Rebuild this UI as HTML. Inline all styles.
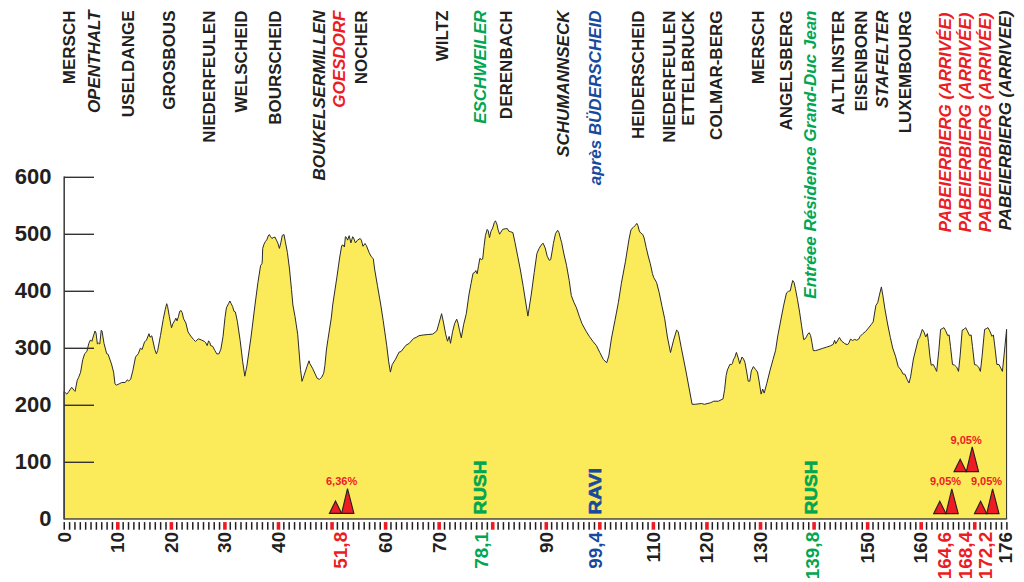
<!DOCTYPE html><html><head><meta charset="utf-8"><style>html,body{margin:0;padding:0;background:#fff;}body{width:1024px;height:582px;overflow:hidden;position:relative;}svg{position:absolute;left:0;top:0;}text{font-family:"Liberation Sans",Arial,Helvetica,sans-serif;font-weight:bold;}</style></head><body>
<svg width="1024" height="582" viewBox="0 0 1024 582">
<polygon points="64.0,391.4 66.9,394.2 68.9,391.4 71.7,387.3 74.4,390.7 75.1,391.4 77.2,380.4 78.5,377.7 80.6,372.2 82.7,359.8 84.7,353.7 86.8,351.6 88.8,343.4 90.5,339.9 91.9,341.3 93.7,335.1 95.0,331.0 96.0,333.0 97.4,344.0 98.5,343.0 99.8,344.0 101.2,330.3 102.0,331.0 104.0,343.4 106.7,353.7 108.1,354.3 111.5,364.0 113.6,372.2 115.0,383.9 116.3,385.2 119.1,383.9 121.8,382.5 125.2,382.5 127.3,379.8 128.7,381.1 130.7,379.1 132.8,370.8 135.5,357.1 138.3,353.7 140.4,348.2 142.1,349.5 144.5,342.0 146.5,340.0 149.0,333.7 150.0,337.2 151.8,335.8 154.8,349.5 156.4,353.9 157.7,350.4 160.5,335.3 163.2,319.5 165.3,309.2 166.7,303.7 167.6,306.5 169.4,316.8 171.5,327.8 172.9,323.7 174.9,320.2 175.9,318.2 177.0,320.9 178.4,316.8 179.7,311.3 181.1,310.6 182.2,312.7 183.6,318.8 185.9,323.0 188.0,331.9 190.7,336.0 193.5,339.5 195.5,341.5 198.3,338.8 201.7,340.1 204.5,341.5 205.8,342.9 207.2,345.6 208.6,340.8 210.0,342.9 210.6,345.6 212.7,346.3 214.8,350.4 216.8,353.9 218.9,353.9 220.9,349.1 223.0,336.7 225.0,317.5 226.4,307.9 228.5,303.7 229.9,301.0 231.2,303.7 232.6,306.5 234.0,311.3 235.4,312.0 237.4,321.6 240.2,340.8 242.7,361.8 244.8,376.2 246.9,365.9 251.0,337.1 255.1,304.1 257.9,282.7 260.6,265.5 262.0,263.5 262.3,260.0 262.7,248.4 264.0,244.2 265.4,241.5 266.8,239.8 268.2,236.0 269.3,234.6 270.5,236.7 271.9,238.5 273.2,237.6 275.0,237.1 276.4,240.1 277.8,242.9 279.4,248.4 280.8,242.9 282.3,235.3 284.0,234.6 285.3,241.5 287.4,252.5 289.5,269.0 291.5,289.6 292.9,305.0 295.0,316.5 297.7,334.3 300.5,369.3 302.0,381.3 304.0,375.5 307.1,366.2 309.0,360.8 309.8,363.5 312.5,368.2 314.8,373.2 317.1,378.2 319.4,379.4 321.8,377.1 323.7,373.2 324.9,365.5 326.4,350.0 327.9,339.8 331.3,317.9 332.7,305.0 336.9,277.2 339.6,258.0 341.7,245.6 343.0,244.9 344.4,247.0 345.4,236.7 346.5,237.4 347.6,240.1 349.2,235.7 350.9,242.9 352.7,236.7 353.6,238.0 355.4,242.9 357.5,240.1 360.2,238.5 361.3,240.1 363.0,246.3 365.0,243.5 366.4,245.6 369.1,252.5 371.2,256.6 373.3,258.7 374.6,269.0 377.4,285.4 380.8,305.0 383.2,320.6 386.7,345.3 388.7,361.8 390.4,372.1 392.2,364.6 395.6,359.1 399.0,352.2 401.1,351.5 405.9,345.3 409.3,343.3 413.5,338.5 416.2,337.4 419.0,335.7 423.1,335.0 427.2,334.6 432.7,334.1 436.8,330.9 439.3,322.0 441.6,313.7 443.4,322.0 445.7,334.3 447.5,341.2 449.2,336.4 450.5,343.3 452.6,331.6 454.7,323.4 456.7,319.2 458.1,323.4 459.5,330.2 461.3,337.8 463.6,324.7 466.3,313.7 468.9,295.0 471.0,283.7 473.0,273.4 474.8,272.4 475.8,270.6 477.2,273.8 478.5,265.8 479.9,258.3 481.3,259.6 482.7,259.0 484.0,246.6 485.4,235.6 487.2,229.4 488.2,230.8 489.5,237.7 490.9,231.5 492.7,228.0 494.3,222.6 495.4,220.8 496.8,223.9 498.2,230.1 499.6,234.2 500.9,232.2 502.6,229.4 505.3,228.7 507.4,228.7 508.8,231.2 510.8,231.8 512.9,232.6 515.0,242.5 517.7,256.2 520.4,270.0 523.2,286.4 527.9,316.1 531.2,295.0 534.2,272.7 536.9,253.5 539.0,248.7 541.0,245.2 543.1,243.2 545.2,248.0 547.2,256.2 549.3,260.3 550.7,259.6 552.7,248.0 553.4,243.4 555.5,233.7 557.6,230.3 558.9,232.4 560.7,239.2 561.7,242.7 563.7,253.0 566.5,265.3 569.2,280.4 571.3,295.5 573.9,302.3 576.5,307.9 579.2,316.1 582.0,323.7 586.1,331.2 589.5,336.7 593.0,341.5 596.4,345.6 599.8,352.5 603.3,359.4 606.7,362.8 608.8,355.9 611.5,338.1 615.0,320.2 618.4,302.4 621.4,283.2 625.5,261.2 629.0,239.2 631.0,229.6 633.1,227.6 635.2,225.5 636.8,223.4 637.9,225.5 639.3,231.0 640.7,233.0 642.7,234.4 644.1,237.9 646.2,247.5 648.2,256.0 650.3,263.7 652.4,273.4 653.7,277.5 656.5,282.3 659.2,292.6 662.0,306.3 664.7,318.7 667.4,337.0 670.5,352.5 673.6,340.1 676.6,330.1 678.2,331.6 681.3,347.8 685.9,371.0 692.1,404.3 695.2,404.3 701.4,403.5 704.5,404.3 710.7,402.7 713.8,401.2 718.4,401.2 723.0,398.9 724.6,389.6 726.1,375.7 727.4,369.9 730.0,364.2 731.5,364.7 732.5,363.2 733.6,359.1 734.6,358.0 736.4,352.4 738.2,357.9 739.7,363.7 742.0,357.0 743.6,359.1 744.9,362.2 746.7,372.0 748.2,381.2 749.8,381.2 751.3,370.9 753.4,366.6 755.5,369.4 757.5,372.0 759.1,381.2 761.1,394.1 762.7,389.0 764.2,393.1 766.8,383.3 769.9,370.9 773.0,359.6 775.6,350.3 777.6,336.9 781.0,319.0 783.7,305.2 786.5,292.9 788.6,291.2 790.3,290.8 791.3,286.0 792.7,280.5 794.1,282.6 795.4,288.7 797.5,299.7 799.6,312.1 801.6,325.9 803.7,339.6 805.1,338.9 806.4,336.9 807.8,334.1 809.2,332.7 810.6,335.5 811.9,342.4 813.3,350.6 815.4,350.6 818.1,349.9 822.2,348.5 826.4,347.2 830.5,345.8 833.2,344.4 834.6,340.3 835.7,343.7 837.4,341.0 839.4,337.5 841.5,341.0 844.2,343.0 845.0,343.9 847.7,344.6 849.1,342.5 850.5,339.1 852.6,340.5 854.6,339.4 856.7,340.2 858.7,339.1 860.1,336.4 862.9,333.6 865.6,331.5 868.4,328.1 871.1,324.7 873.2,321.9 874.6,313.0 875.9,305.4 877.7,302.7 879.4,295.1 881.4,286.9 882.8,295.1 884.9,308.9 887.6,324.0 890.4,337.7 892.7,348.0 895.5,356.2 898.2,366.5 901.0,370.0 903.1,374.1 904.8,374.1 907.2,379.6 909.0,383.0 910.6,376.9 913.4,359.0 916.1,348.0 918.2,339.7 919.6,337.7 922.3,329.4 924.1,332.2 925.7,337.0 927.4,333.6 928.5,342.5 929.9,356.2 931.2,365.2 933.3,364.5 934.7,367.2 936.7,371.4 938.8,350.7 940.6,329.4 942.2,328.7 943.9,327.6 945.7,330.8 947.7,335.6 949.1,334.9 950.5,346.6 952.5,364.5 954.6,365.2 956.7,367.2 958.5,371.4 960.1,356.2 962.2,330.1 964.0,329.4 965.6,327.6 967.3,330.8 969.5,335.6 971.1,334.9 972.5,346.6 974.5,364.5 976.6,365.2 978.7,367.2 980.4,371.4 982.1,356.2 984.6,329.4 986.2,328.7 987.9,327.6 989.7,330.8 992.0,336.3 993.4,334.9 995.2,349.4 996.9,364.5 999.0,364.5 1000.7,367.9 1002.4,371.4 1004.1,354.9 1006.6,329.4 1006.6,519 64,519" fill="#FBEA5A" stroke="#2b2b2b" stroke-width="1" stroke-linejoin="round"/>
<line x1="64.2" y1="176.6" x2="64.2" y2="519.4" stroke="#444" stroke-width="1.6"/>
<line x1="63.6" y1="518.9" x2="1007.3" y2="518.9" stroke="#555" stroke-width="0.9"/>
<line x1="64" y1="177.3" x2="94" y2="177.3" stroke="#333" stroke-width="1.4"/>
<line x1="64" y1="234.3" x2="94" y2="234.3" stroke="#333" stroke-width="1.4"/>
<line x1="64" y1="291.3" x2="94" y2="291.3" stroke="#333" stroke-width="1.4"/>
<line x1="64" y1="348.3" x2="94" y2="348.3" stroke="#333" stroke-width="1.4"/>
<line x1="64" y1="405.3" x2="94" y2="405.3" stroke="#333" stroke-width="1.4"/>
<line x1="64" y1="462.3" x2="94" y2="462.3" stroke="#333" stroke-width="1.4"/>
<text transform="translate(0 526.30) scale(1 1.03)" x="51.5" y="0" text-anchor="end" font-size="22" fill="#231F20">0</text>
<text transform="translate(0 469.30) scale(1 1.03)" x="51.5" y="0" text-anchor="end" font-size="22" fill="#231F20">100</text>
<text transform="translate(0 412.30) scale(1 1.03)" x="51.5" y="0" text-anchor="end" font-size="22" fill="#231F20">200</text>
<text transform="translate(0 355.30) scale(1 1.03)" x="51.5" y="0" text-anchor="end" font-size="22" fill="#231F20">300</text>
<text transform="translate(0 298.30) scale(1 1.03)" x="51.5" y="0" text-anchor="end" font-size="22" fill="#231F20">400</text>
<text transform="translate(0 241.30) scale(1 1.03)" x="51.5" y="0" text-anchor="end" font-size="22" fill="#231F20">500</text>
<text transform="translate(0 184.30) scale(1 1.03)" x="51.5" y="0" text-anchor="end" font-size="22" fill="#231F20">600</text>
<rect x="63.49" y="522.1" width="1.5" height="7.6" fill="#231F20"/>
<rect x="68.85" y="522.1" width="1.5" height="7.6" fill="#231F20"/>
<rect x="74.20" y="522.1" width="1.5" height="7.6" fill="#231F20"/>
<rect x="79.56" y="522.1" width="1.5" height="7.6" fill="#231F20"/>
<rect x="84.91" y="522.1" width="1.5" height="7.6" fill="#231F20"/>
<rect x="90.27" y="522.1" width="1.5" height="7.6" fill="#231F20"/>
<rect x="95.63" y="522.1" width="1.5" height="7.6" fill="#231F20"/>
<rect x="100.98" y="522.1" width="1.5" height="7.6" fill="#231F20"/>
<rect x="106.34" y="522.1" width="1.5" height="7.6" fill="#231F20"/>
<rect x="111.69" y="522.1" width="1.5" height="7.6" fill="#231F20"/>
<rect x="116.00" y="522.1" width="3.6" height="7.6" fill="#ED1C24"/>
<rect x="122.41" y="522.1" width="1.5" height="7.6" fill="#231F20"/>
<rect x="127.76" y="522.1" width="1.5" height="7.6" fill="#231F20"/>
<rect x="133.12" y="522.1" width="1.5" height="7.6" fill="#231F20"/>
<rect x="138.47" y="522.1" width="1.5" height="7.6" fill="#231F20"/>
<rect x="143.83" y="522.1" width="1.5" height="7.6" fill="#231F20"/>
<rect x="149.19" y="522.1" width="1.5" height="7.6" fill="#231F20"/>
<rect x="154.54" y="522.1" width="1.5" height="7.6" fill="#231F20"/>
<rect x="159.90" y="522.1" width="1.5" height="7.6" fill="#231F20"/>
<rect x="165.25" y="522.1" width="1.5" height="7.6" fill="#231F20"/>
<rect x="169.56" y="522.1" width="3.6" height="7.6" fill="#ED1C24"/>
<rect x="175.97" y="522.1" width="1.5" height="7.6" fill="#231F20"/>
<rect x="181.32" y="522.1" width="1.5" height="7.6" fill="#231F20"/>
<rect x="186.68" y="522.1" width="1.5" height="7.6" fill="#231F20"/>
<rect x="192.03" y="522.1" width="1.5" height="7.6" fill="#231F20"/>
<rect x="197.39" y="522.1" width="1.5" height="7.6" fill="#231F20"/>
<rect x="202.75" y="522.1" width="1.5" height="7.6" fill="#231F20"/>
<rect x="208.10" y="522.1" width="1.5" height="7.6" fill="#231F20"/>
<rect x="213.46" y="522.1" width="1.5" height="7.6" fill="#231F20"/>
<rect x="218.81" y="522.1" width="1.5" height="7.6" fill="#231F20"/>
<rect x="223.12" y="522.1" width="3.6" height="7.6" fill="#ED1C24"/>
<rect x="229.53" y="522.1" width="1.5" height="7.6" fill="#231F20"/>
<rect x="234.88" y="522.1" width="1.5" height="7.6" fill="#231F20"/>
<rect x="240.24" y="522.1" width="1.5" height="7.6" fill="#231F20"/>
<rect x="245.59" y="522.1" width="1.5" height="7.6" fill="#231F20"/>
<rect x="250.95" y="522.1" width="1.5" height="7.6" fill="#231F20"/>
<rect x="256.31" y="522.1" width="1.5" height="7.6" fill="#231F20"/>
<rect x="261.66" y="522.1" width="1.5" height="7.6" fill="#231F20"/>
<rect x="267.02" y="522.1" width="1.5" height="7.6" fill="#231F20"/>
<rect x="272.37" y="522.1" width="1.5" height="7.6" fill="#231F20"/>
<rect x="276.68" y="522.1" width="3.6" height="7.6" fill="#ED1C24"/>
<rect x="283.09" y="522.1" width="1.5" height="7.6" fill="#231F20"/>
<rect x="288.44" y="522.1" width="1.5" height="7.6" fill="#231F20"/>
<rect x="293.80" y="522.1" width="1.5" height="7.6" fill="#231F20"/>
<rect x="299.15" y="522.1" width="1.5" height="7.6" fill="#231F20"/>
<rect x="304.51" y="522.1" width="1.5" height="7.6" fill="#231F20"/>
<rect x="309.87" y="522.1" width="1.5" height="7.6" fill="#231F20"/>
<rect x="315.22" y="522.1" width="1.5" height="7.6" fill="#231F20"/>
<rect x="320.58" y="522.1" width="1.5" height="7.6" fill="#231F20"/>
<rect x="325.93" y="522.1" width="1.5" height="7.6" fill="#231F20"/>
<rect x="330.24" y="522.1" width="3.6" height="7.6" fill="#ED1C24"/>
<rect x="336.65" y="522.1" width="1.5" height="7.6" fill="#231F20"/>
<rect x="342.00" y="522.1" width="1.5" height="7.6" fill="#231F20"/>
<rect x="347.36" y="522.1" width="1.5" height="7.6" fill="#231F20"/>
<rect x="352.71" y="522.1" width="1.5" height="7.6" fill="#231F20"/>
<rect x="358.07" y="522.1" width="1.5" height="7.6" fill="#231F20"/>
<rect x="363.43" y="522.1" width="1.5" height="7.6" fill="#231F20"/>
<rect x="368.78" y="522.1" width="1.5" height="7.6" fill="#231F20"/>
<rect x="374.14" y="522.1" width="1.5" height="7.6" fill="#231F20"/>
<rect x="379.49" y="522.1" width="1.5" height="7.6" fill="#231F20"/>
<rect x="383.80" y="522.1" width="3.6" height="7.6" fill="#ED1C24"/>
<rect x="390.21" y="522.1" width="1.5" height="7.6" fill="#231F20"/>
<rect x="395.56" y="522.1" width="1.5" height="7.6" fill="#231F20"/>
<rect x="400.92" y="522.1" width="1.5" height="7.6" fill="#231F20"/>
<rect x="406.27" y="522.1" width="1.5" height="7.6" fill="#231F20"/>
<rect x="411.63" y="522.1" width="1.5" height="7.6" fill="#231F20"/>
<rect x="416.99" y="522.1" width="1.5" height="7.6" fill="#231F20"/>
<rect x="422.34" y="522.1" width="1.5" height="7.6" fill="#231F20"/>
<rect x="427.70" y="522.1" width="1.5" height="7.6" fill="#231F20"/>
<rect x="433.05" y="522.1" width="1.5" height="7.6" fill="#231F20"/>
<rect x="437.36" y="522.1" width="3.6" height="7.6" fill="#ED1C24"/>
<rect x="443.77" y="522.1" width="1.5" height="7.6" fill="#231F20"/>
<rect x="449.12" y="522.1" width="1.5" height="7.6" fill="#231F20"/>
<rect x="454.48" y="522.1" width="1.5" height="7.6" fill="#231F20"/>
<rect x="459.83" y="522.1" width="1.5" height="7.6" fill="#231F20"/>
<rect x="465.19" y="522.1" width="1.5" height="7.6" fill="#231F20"/>
<rect x="470.55" y="522.1" width="1.5" height="7.6" fill="#231F20"/>
<rect x="475.90" y="522.1" width="1.5" height="7.6" fill="#231F20"/>
<rect x="481.26" y="522.1" width="1.5" height="7.6" fill="#231F20"/>
<rect x="486.61" y="522.1" width="1.5" height="7.6" fill="#231F20"/>
<rect x="490.92" y="522.1" width="3.6" height="7.6" fill="#ED1C24"/>
<rect x="497.33" y="522.1" width="1.5" height="7.6" fill="#231F20"/>
<rect x="502.68" y="522.1" width="1.5" height="7.6" fill="#231F20"/>
<rect x="508.04" y="522.1" width="1.5" height="7.6" fill="#231F20"/>
<rect x="513.39" y="522.1" width="1.5" height="7.6" fill="#231F20"/>
<rect x="518.75" y="522.1" width="1.5" height="7.6" fill="#231F20"/>
<rect x="524.11" y="522.1" width="1.5" height="7.6" fill="#231F20"/>
<rect x="529.46" y="522.1" width="1.5" height="7.6" fill="#231F20"/>
<rect x="534.82" y="522.1" width="1.5" height="7.6" fill="#231F20"/>
<rect x="540.17" y="522.1" width="1.5" height="7.6" fill="#231F20"/>
<rect x="544.48" y="522.1" width="3.6" height="7.6" fill="#ED1C24"/>
<rect x="550.89" y="522.1" width="1.5" height="7.6" fill="#231F20"/>
<rect x="556.24" y="522.1" width="1.5" height="7.6" fill="#231F20"/>
<rect x="561.60" y="522.1" width="1.5" height="7.6" fill="#231F20"/>
<rect x="566.95" y="522.1" width="1.5" height="7.6" fill="#231F20"/>
<rect x="572.31" y="522.1" width="1.5" height="7.6" fill="#231F20"/>
<rect x="577.67" y="522.1" width="1.5" height="7.6" fill="#231F20"/>
<rect x="583.02" y="522.1" width="1.5" height="7.6" fill="#231F20"/>
<rect x="588.38" y="522.1" width="1.5" height="7.6" fill="#231F20"/>
<rect x="593.73" y="522.1" width="1.5" height="7.6" fill="#231F20"/>
<rect x="598.04" y="522.1" width="3.6" height="7.6" fill="#ED1C24"/>
<rect x="604.45" y="522.1" width="1.5" height="7.6" fill="#231F20"/>
<rect x="609.80" y="522.1" width="1.5" height="7.6" fill="#231F20"/>
<rect x="615.16" y="522.1" width="1.5" height="7.6" fill="#231F20"/>
<rect x="620.51" y="522.1" width="1.5" height="7.6" fill="#231F20"/>
<rect x="625.87" y="522.1" width="1.5" height="7.6" fill="#231F20"/>
<rect x="631.23" y="522.1" width="1.5" height="7.6" fill="#231F20"/>
<rect x="636.58" y="522.1" width="1.5" height="7.6" fill="#231F20"/>
<rect x="641.94" y="522.1" width="1.5" height="7.6" fill="#231F20"/>
<rect x="647.29" y="522.1" width="1.5" height="7.6" fill="#231F20"/>
<rect x="651.60" y="522.1" width="3.6" height="7.6" fill="#ED1C24"/>
<rect x="658.01" y="522.1" width="1.5" height="7.6" fill="#231F20"/>
<rect x="663.36" y="522.1" width="1.5" height="7.6" fill="#231F20"/>
<rect x="668.72" y="522.1" width="1.5" height="7.6" fill="#231F20"/>
<rect x="674.07" y="522.1" width="1.5" height="7.6" fill="#231F20"/>
<rect x="679.43" y="522.1" width="1.5" height="7.6" fill="#231F20"/>
<rect x="684.79" y="522.1" width="1.5" height="7.6" fill="#231F20"/>
<rect x="690.14" y="522.1" width="1.5" height="7.6" fill="#231F20"/>
<rect x="695.50" y="522.1" width="1.5" height="7.6" fill="#231F20"/>
<rect x="700.85" y="522.1" width="1.5" height="7.6" fill="#231F20"/>
<rect x="705.16" y="522.1" width="3.6" height="7.6" fill="#ED1C24"/>
<rect x="711.57" y="522.1" width="1.5" height="7.6" fill="#231F20"/>
<rect x="716.92" y="522.1" width="1.5" height="7.6" fill="#231F20"/>
<rect x="722.28" y="522.1" width="1.5" height="7.6" fill="#231F20"/>
<rect x="727.63" y="522.1" width="1.5" height="7.6" fill="#231F20"/>
<rect x="732.99" y="522.1" width="1.5" height="7.6" fill="#231F20"/>
<rect x="738.35" y="522.1" width="1.5" height="7.6" fill="#231F20"/>
<rect x="743.70" y="522.1" width="1.5" height="7.6" fill="#231F20"/>
<rect x="749.06" y="522.1" width="1.5" height="7.6" fill="#231F20"/>
<rect x="754.41" y="522.1" width="1.5" height="7.6" fill="#231F20"/>
<rect x="758.72" y="522.1" width="3.6" height="7.6" fill="#ED1C24"/>
<rect x="765.13" y="522.1" width="1.5" height="7.6" fill="#231F20"/>
<rect x="770.48" y="522.1" width="1.5" height="7.6" fill="#231F20"/>
<rect x="775.84" y="522.1" width="1.5" height="7.6" fill="#231F20"/>
<rect x="781.19" y="522.1" width="1.5" height="7.6" fill="#231F20"/>
<rect x="786.55" y="522.1" width="1.5" height="7.6" fill="#231F20"/>
<rect x="791.91" y="522.1" width="1.5" height="7.6" fill="#231F20"/>
<rect x="797.26" y="522.1" width="1.5" height="7.6" fill="#231F20"/>
<rect x="802.62" y="522.1" width="1.5" height="7.6" fill="#231F20"/>
<rect x="807.97" y="522.1" width="1.5" height="7.6" fill="#231F20"/>
<rect x="812.28" y="522.1" width="3.6" height="7.6" fill="#ED1C24"/>
<rect x="818.69" y="522.1" width="1.5" height="7.6" fill="#231F20"/>
<rect x="824.04" y="522.1" width="1.5" height="7.6" fill="#231F20"/>
<rect x="829.40" y="522.1" width="1.5" height="7.6" fill="#231F20"/>
<rect x="834.75" y="522.1" width="1.5" height="7.6" fill="#231F20"/>
<rect x="840.11" y="522.1" width="1.5" height="7.6" fill="#231F20"/>
<rect x="845.47" y="522.1" width="1.5" height="7.6" fill="#231F20"/>
<rect x="850.82" y="522.1" width="1.5" height="7.6" fill="#231F20"/>
<rect x="856.18" y="522.1" width="1.5" height="7.6" fill="#231F20"/>
<rect x="861.53" y="522.1" width="1.5" height="7.6" fill="#231F20"/>
<rect x="865.84" y="522.1" width="3.6" height="7.6" fill="#ED1C24"/>
<rect x="872.25" y="522.1" width="1.5" height="7.6" fill="#231F20"/>
<rect x="877.60" y="522.1" width="1.5" height="7.6" fill="#231F20"/>
<rect x="882.96" y="522.1" width="1.5" height="7.6" fill="#231F20"/>
<rect x="888.31" y="522.1" width="1.5" height="7.6" fill="#231F20"/>
<rect x="893.67" y="522.1" width="1.5" height="7.6" fill="#231F20"/>
<rect x="899.03" y="522.1" width="1.5" height="7.6" fill="#231F20"/>
<rect x="904.38" y="522.1" width="1.5" height="7.6" fill="#231F20"/>
<rect x="909.74" y="522.1" width="1.5" height="7.6" fill="#231F20"/>
<rect x="915.09" y="522.1" width="1.5" height="7.6" fill="#231F20"/>
<rect x="919.40" y="522.1" width="3.6" height="7.6" fill="#ED1C24"/>
<rect x="925.81" y="522.1" width="1.5" height="7.6" fill="#231F20"/>
<rect x="931.16" y="522.1" width="1.5" height="7.6" fill="#231F20"/>
<rect x="936.52" y="522.1" width="1.5" height="7.6" fill="#231F20"/>
<rect x="941.87" y="522.1" width="1.5" height="7.6" fill="#231F20"/>
<rect x="947.23" y="522.1" width="1.5" height="7.6" fill="#231F20"/>
<rect x="952.59" y="522.1" width="1.5" height="7.6" fill="#231F20"/>
<rect x="957.94" y="522.1" width="1.5" height="7.6" fill="#231F20"/>
<rect x="963.30" y="522.1" width="1.5" height="7.6" fill="#231F20"/>
<rect x="968.65" y="522.1" width="1.5" height="7.6" fill="#231F20"/>
<rect x="972.96" y="522.1" width="3.6" height="7.6" fill="#ED1C24"/>
<rect x="979.37" y="522.1" width="1.5" height="7.6" fill="#231F20"/>
<rect x="984.72" y="522.1" width="1.5" height="7.6" fill="#231F20"/>
<rect x="990.08" y="522.1" width="1.5" height="7.6" fill="#231F20"/>
<rect x="995.43" y="522.1" width="1.5" height="7.6" fill="#231F20"/>
<rect x="1000.79" y="522.1" width="1.5" height="7.6" fill="#231F20"/>
<rect x="1006.15" y="522.1" width="1.5" height="7.6" fill="#231F20"/>
<text x="70.7" y="531.8" transform="rotate(-90 70.7 531.8)" text-anchor="end" font-size="19" fill="#231F20">0</text>
<text x="124.3" y="531.8" transform="rotate(-90 124.3 531.8)" text-anchor="end" font-size="19" fill="#231F20">10</text>
<text x="177.9" y="531.8" transform="rotate(-90 177.9 531.8)" text-anchor="end" font-size="19" fill="#231F20">20</text>
<text x="231.4" y="531.8" transform="rotate(-90 231.4 531.8)" text-anchor="end" font-size="19" fill="#231F20">30</text>
<text x="285.0" y="531.8" transform="rotate(-90 285.0 531.8)" text-anchor="end" font-size="19" fill="#231F20">40</text>
<text x="347.3" y="531.8" transform="rotate(-90 347.3 531.8)" text-anchor="end" font-size="19" fill="#ED1C24">51,8</text>
<text x="392.1" y="531.8" transform="rotate(-90 392.1 531.8)" text-anchor="end" font-size="19" fill="#231F20">60</text>
<text x="445.7" y="531.8" transform="rotate(-90 445.7 531.8)" text-anchor="end" font-size="19" fill="#231F20">70</text>
<text x="488.1" y="531.8" transform="rotate(-90 488.1 531.8)" text-anchor="end" font-size="19" fill="#00A651">78,1</text>
<text x="552.8" y="531.8" transform="rotate(-90 552.8 531.8)" text-anchor="end" font-size="19" fill="#231F20">90</text>
<text x="602.2" y="531.8" transform="rotate(-90 602.2 531.8)" text-anchor="end" font-size="19" fill="#174A9F">99,4</text>
<text x="659.9" y="531.8" transform="rotate(-90 659.9 531.8)" text-anchor="end" font-size="19" fill="#231F20">110</text>
<text x="713.5" y="531.8" transform="rotate(-90 713.5 531.8)" text-anchor="end" font-size="19" fill="#231F20">120</text>
<text x="767.0" y="531.8" transform="rotate(-90 767.0 531.8)" text-anchor="end" font-size="19" fill="#231F20">130</text>
<text x="818.6" y="531.8" transform="rotate(-90 818.6 531.8)" text-anchor="end" font-size="19" fill="#00A651">139,8</text>
<text x="874.1" y="531.8" transform="rotate(-90 874.1 531.8)" text-anchor="end" font-size="19" fill="#231F20">150</text>
<text x="927.1" y="531.8" transform="rotate(-90 927.1 531.8)" text-anchor="end" font-size="19" fill="#231F20">160</text>
<text x="951.4" y="531.8" transform="rotate(-90 951.4 531.8)" text-anchor="end" font-size="19" fill="#ED1C24">164,6</text>
<text x="971.8" y="531.8" transform="rotate(-90 971.8 531.8)" text-anchor="end" font-size="19" fill="#ED1C24">168,4</text>
<text x="992.1" y="531.8" transform="rotate(-90 992.1 531.8)" text-anchor="end" font-size="19" fill="#ED1C24">172,2</text>
<text x="1012.2" y="531.8" transform="rotate(-90 1012.2 531.8)" text-anchor="end" font-size="19" fill="#231F20">176</text>
<text x="75.1" y="10.5" transform="rotate(-90 75.1 10.5)" text-anchor="end" font-size="17" fill="#231F20">MERSCH</text>
<text x="99.8" y="10.5" transform="rotate(-90 99.8 10.5)" text-anchor="end" font-size="17" fill="#231F20" font-style="italic">OPENTHALT</text>
<text x="133.8" y="10.5" transform="rotate(-90 133.8 10.5)" text-anchor="end" font-size="17" fill="#231F20">USELDANGE</text>
<text x="175.3" y="10.5" transform="rotate(-90 175.3 10.5)" text-anchor="end" font-size="17" fill="#231F20">GROSBOUS</text>
<text x="215.4" y="10.5" transform="rotate(-90 215.4 10.5)" text-anchor="end" font-size="17" fill="#231F20">NIEDERFEULEN</text>
<text x="247.3" y="10.5" transform="rotate(-90 247.3 10.5)" text-anchor="end" font-size="17" fill="#231F20">WELSCHEID</text>
<text x="280.7" y="10.5" transform="rotate(-90 280.7 10.5)" text-anchor="end" font-size="17" fill="#231F20">BOURSCHEID</text>
<text x="325.3" y="10.5" transform="rotate(-90 325.3 10.5)" text-anchor="end" font-size="17" fill="#231F20" font-style="italic">BOUKELSERMILLEN</text>
<text x="344.9" y="10.5" transform="rotate(-90 344.9 10.5)" text-anchor="end" font-size="17" fill="#ED1C24" font-style="italic">GOESDORF</text>
<text x="367.1" y="10.5" transform="rotate(-90 367.1 10.5)" text-anchor="end" font-size="17" fill="#231F20">NOCHER</text>
<text x="447.9" y="10.5" transform="rotate(-90 447.9 10.5)" text-anchor="end" font-size="17" fill="#231F20">WILTZ</text>
<text x="486.3" y="10.5" transform="rotate(-90 486.3 10.5)" text-anchor="end" font-size="17" fill="#00A651" font-style="italic">ESCHWEILER</text>
<text x="512.3" y="10.5" transform="rotate(-90 512.3 10.5)" text-anchor="end" font-size="17" fill="#231F20">DERENBACH</text>
<text x="569.0" y="10.5" transform="rotate(-90 569.0 10.5)" text-anchor="end" font-size="17" fill="#231F20" font-style="italic">SCHUMANNSECK</text>
<text x="601.0" y="10.5" transform="rotate(-90 601.0 10.5)" text-anchor="end" font-size="17" fill="#174A9F" font-style="italic">après BÜDERSCHEID</text>
<text x="643.8" y="10.5" transform="rotate(-90 643.8 10.5)" text-anchor="end" font-size="17" fill="#231F20">HEIDERSCHEID</text>
<text x="675.4" y="10.5" transform="rotate(-90 675.4 10.5)" text-anchor="end" font-size="17" fill="#231F20">NIEDERFEULEN</text>
<text x="694.3" y="10.5" transform="rotate(-90 694.3 10.5)" text-anchor="end" font-size="17" fill="#231F20">ETTELBRUCK</text>
<text x="722.1" y="10.5" transform="rotate(-90 722.1 10.5)" text-anchor="end" font-size="17" fill="#231F20">COLMAR-BERG</text>
<text x="763.8" y="10.5" transform="rotate(-90 763.8 10.5)" text-anchor="end" font-size="17" fill="#231F20">MERSCH</text>
<text x="792.2" y="10.5" transform="rotate(-90 792.2 10.5)" text-anchor="end" font-size="17" fill="#231F20">ANGELSBERG</text>
<text x="816.3" y="10.5" transform="rotate(-90 816.3 10.5)" text-anchor="end" font-size="17" fill="#00A651" font-style="italic">Entréee Résidence Grand-Duc Jean</text>
<text x="843.6" y="10.5" transform="rotate(-90 843.6 10.5)" text-anchor="end" font-size="17" fill="#231F20">ALTLINSTER</text>
<text x="866.8" y="10.5" transform="rotate(-90 866.8 10.5)" text-anchor="end" font-size="17" fill="#231F20">EISENBORN</text>
<text x="888.3" y="10.5" transform="rotate(-90 888.3 10.5)" text-anchor="end" font-size="17" fill="#231F20" font-style="italic">STAFELTER</text>
<text x="910.6" y="10.5" transform="rotate(-90 910.6 10.5)" text-anchor="end" font-size="17" fill="#231F20">LUXEMBOURG</text>
<text x="950.8" y="12.6" transform="rotate(-90 950.8 12.6)" text-anchor="end" font-size="17" fill="#ED1C24" font-style="italic">PABEIERBIERG (ARRIVÉE)</text>
<text x="970.8" y="12.6" transform="rotate(-90 970.8 12.6)" text-anchor="end" font-size="17" fill="#ED1C24" font-style="italic">PABEIERBIERG (ARRIVÉE)</text>
<text x="990.6" y="12.6" transform="rotate(-90 990.6 12.6)" text-anchor="end" font-size="17" fill="#ED1C24" font-style="italic">PABEIERBIERG (ARRIVÉE)</text>
<text x="1010.7" y="10.5" transform="rotate(-90 1010.7 10.5)" text-anchor="end" font-size="17" fill="#231F20" font-style="italic">PABEIERBIERG (ARRIVEE)</text>
<text x="486.3" y="514.5" transform="rotate(-90 486.3 514.5)" text-anchor="start" font-size="16.5" fill="#00A651" lengthAdjust="spacingAndGlyphs" textLength="53.9" stroke-width="0.6" stroke="#00A651">RUSH</text>
<text x="600.6" y="514.5" transform="rotate(-90 600.6 514.5)" text-anchor="start" font-size="16.5" fill="#174A9F" lengthAdjust="spacingAndGlyphs" textLength="46.5" stroke-width="0.6" stroke="#174A9F">RAVI</text>
<text x="816.9" y="514.5" transform="rotate(-90 816.9 514.5)" text-anchor="start" font-size="16.5" fill="#00A651" lengthAdjust="spacingAndGlyphs" textLength="53.9" stroke-width="0.6" stroke="#00A651">RUSH</text>
<polygon points="329.4,513.4 335.5,501.0 341.6,513.4" fill="#ED1C24" stroke="#231F20" stroke-width="1.1" stroke-linejoin="miter"/><polygon points="341.6,513.4 347.5,488.7 353.9,513.4" fill="#ED1C24" stroke="#231F20" stroke-width="1.1"/>
<text x="341.6" y="485.1" text-anchor="middle" font-size="11" fill="#ED1C24">6,36%</text>
<polygon points="933.7,513.6 939.8,501.2 945.9,513.6" fill="#ED1C24" stroke="#231F20" stroke-width="1.1" stroke-linejoin="miter"/><polygon points="945.9,513.6 951.8,488.9 958.2,513.6" fill="#ED1C24" stroke="#231F20" stroke-width="1.1"/>
<text x="945.5" y="485.2" text-anchor="middle" font-size="11" fill="#ED1C24">9,05%</text>
<polygon points="954.1,471.6 960.2,459.2 966.3,471.6" fill="#ED1C24" stroke="#231F20" stroke-width="1.1" stroke-linejoin="miter"/><polygon points="966.3,471.6 972.2,446.9 978.6,471.6" fill="#ED1C24" stroke="#231F20" stroke-width="1.1"/>
<text x="966.1" y="444.2" text-anchor="middle" font-size="11" fill="#ED1C24">9,05%</text>
<polygon points="974.5,513.6 980.6,501.2 986.7,513.6" fill="#ED1C24" stroke="#231F20" stroke-width="1.1" stroke-linejoin="miter"/><polygon points="986.7,513.6 992.6,488.9 999.0,513.6" fill="#ED1C24" stroke="#231F20" stroke-width="1.1"/>
<text x="986.5" y="485.2" text-anchor="middle" font-size="11" fill="#ED1C24">9,05%</text>
</svg></body></html>
